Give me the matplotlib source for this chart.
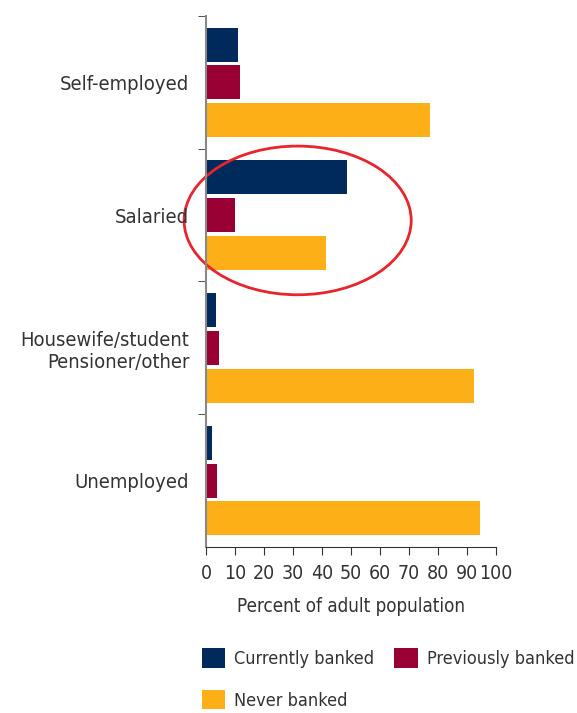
import matplotlib.pyplot as plt
from matplotlib.patches import Ellipse, Patch
import numpy as np

plt.rcParams['font.family'] = ['DejaVu Sans']
plt.rcParams['font.stretch'] = 'condensed'

categories = ['Self-employed', 'Salaried', 'Housewife/student\nPensioner/other', 'Unemployed']
currently = [11.0, 48.6, 3.4, 2.1]
previously = [11.7, 10.0, 4.5, 3.8]
never = [77.2, 41.4, 92.4, 94.5]

series = ['Currently banked', 'Previously banked', 'Never banked']
colors = ['#002a5c', '#990033', '#fcaf17']

fig = plt.figure(figsize=(5.77, 7.13), dpi=100)
ax = fig.add_axes([0.357, 0.2328, 0.5027, 0.7448])

y = np.arange(len(categories))
offsets = [-0.285, 0.0, 0.285]
for vals, off, col in zip([currently, previously, never], offsets, colors):
    ax.barh(y + off, vals, height=0.256, color=col, left=0)

ax.set_ylim(3.5, -0.5)
ax.set_xlim(0, 100)
ax.set_xticks(range(0, 101, 10))
ax.tick_params(axis='x', labelsize=14, length=6, color='#333333', labelcolor='#333333', pad=6)
ax.set_yticks(y)
ax.set_yticklabels(categories, fontsize=14.5, color='#333333')
ax.tick_params(axis='y', which='major', length=0, pad=12)
ax.set_yticks([-0.5, 0.5, 1.5, 2.5], minor=True)
ax.tick_params(axis='y', which='minor', length=6, color='#333333')

for s in ['top', 'right']:
    ax.spines[s].set_visible(False)
ax.spines['left'].set_color('#888888')
ax.spines['left'].set_linewidth(1.5)
ax.spines['bottom'].set_color('#333333')

ax.set_xlabel('Percent of adult population', fontsize=13.5, color='#333333', labelpad=10)

# highlight the salaried group
ell = Ellipse((31.6, 1.04), 78.3, 1.12, fill=False, edgecolor='#e8242c', lw=2, clip_on=False)
ax.add_patch(ell)

# legend fills column-wise, so order handles to read row by row
order = [0, 2, 1]
handles = [Patch(facecolor=colors[i], edgecolor='none') for i in order]
labels = [series[i] for i in order]
fig.legend(handles, labels, loc='upper left', bbox_to_anchor=(0.350, 0.091), ncol=2,
           frameon=False, fontsize=13, handlelength=1.3, handleheight=1.3,
           handletextpad=0.5, columnspacing=1.1, labelspacing=1.2, borderpad=0,
           borderaxespad=0, labelcolor='#333333')

fig.savefig('out.png', dpi=100)
